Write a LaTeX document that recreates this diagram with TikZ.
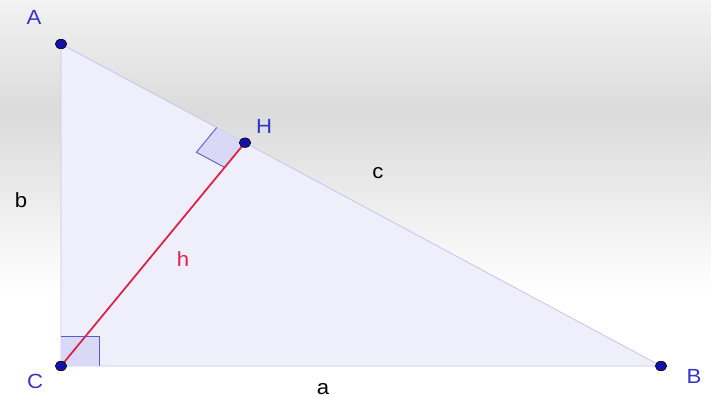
\documentclass[tikz,border=0pt]{standalone}
\usepackage{fontspec}
\setmainfont{Liberation Sans}
\usetikzlibrary{shapes.geometric}
\definecolor{bgtop}{HTML}{F2F2F2}
\definecolor{bgmid}{HTML}{DBDBDB}
\definecolor{trifill}{HTML}{EFEFFC}
\definecolor{triedge}{HTML}{C8C8EC}
\definecolor{ptfill}{HTML}{1212A8}
\definecolor{lblblue}{HTML}{3636C6}
\definecolor{hred}{HTML}{DD2448}
\definecolor{sqfill}{HTML}{D9D9F7}
\definecolor{sqedge}{HTML}{5A5ACC}
\tikzset{
  pt/.style={ellipse,fill=ptfill,draw=black,line width=0.6pt,inner sep=0pt,minimum width=11.5pt,minimum height=9.5pt},
  ptlabel/.style={text=lblblue,font=\fontsize{20.5}{20.5}\selectfont,inner sep=0pt,xscale=1.08},
  sidelabel/.style={text=black,font=\fontsize{20.5}{20.5}\selectfont,inner sep=0pt,xscale=1.08},
  rightsq/.style={fill=sqfill,draw=sqedge,line width=0.9pt},
}
\begin{document}
\begin{tikzpicture}[x=1pt,y=-1pt]
\useasboundingbox (0,0) rectangle (711,398);
% background
\fill[top color=bgtop,bottom color=bgmid,draw=none] (0,0) rectangle (711,113);
\fill[top color=bgmid,bottom color=white,draw=none] (0,113) rectangle (711,293);
\fill[white] (0,293) rectangle (711,398);
% coordinates
\coordinate (A) at (61,44);
\coordinate (B) at (661,366);
\coordinate (C) at (61,366);
\coordinate (H) at (245,142.7);
% triangle
\filldraw[fill=trifill,draw=triedge,line width=0.9pt] (A) -- (B) -- (C) -- cycle;
% right angle at C
\fill[sqfill] (C) rectangle (99,336);
\draw[sqedge,line width=0.9pt] (61,336) -- (99,336) -- (99,366);
% right angle at H
\path (H) ++(-28.3,-15.1) coordinate (H1);
\path (H) ++(-20.3,24.7) coordinate (H2);
\path (H1) ++(-20.3,24.7) coordinate (H3);
\fill[sqfill] (H) -- (H1) -- (H3) -- (H2) -- cycle;
\draw[sqedge,line width=0.9pt] (H1) -- (H3) -- (H2);
% altitude
\draw[hred,line width=1.8pt] (C) -- (H);
% points
\node[pt] (pA) at (A) {};
\node[pt] (pB) at (B) {};
\node[pt] (pC) at (C) {};
\node[pt] (pH) at (H) {};
% labels
\node[ptlabel] (lA) at (34,17) {A};
\node[ptlabel] (lH) at (264,126) {H};
\node[ptlabel] (lC) at (35,381) {C};
\node[ptlabel] (lB) at (694,376) {B};
\node[sidelabel] (la) at (323,389) {a};
\node[sidelabel] (lb) at (21,200) {b};
\node[sidelabel] (lc) at (378,173) {c};
\node[sidelabel,text=hred] (lh) at (183,259) {h};
\end{tikzpicture}
\end{document}
